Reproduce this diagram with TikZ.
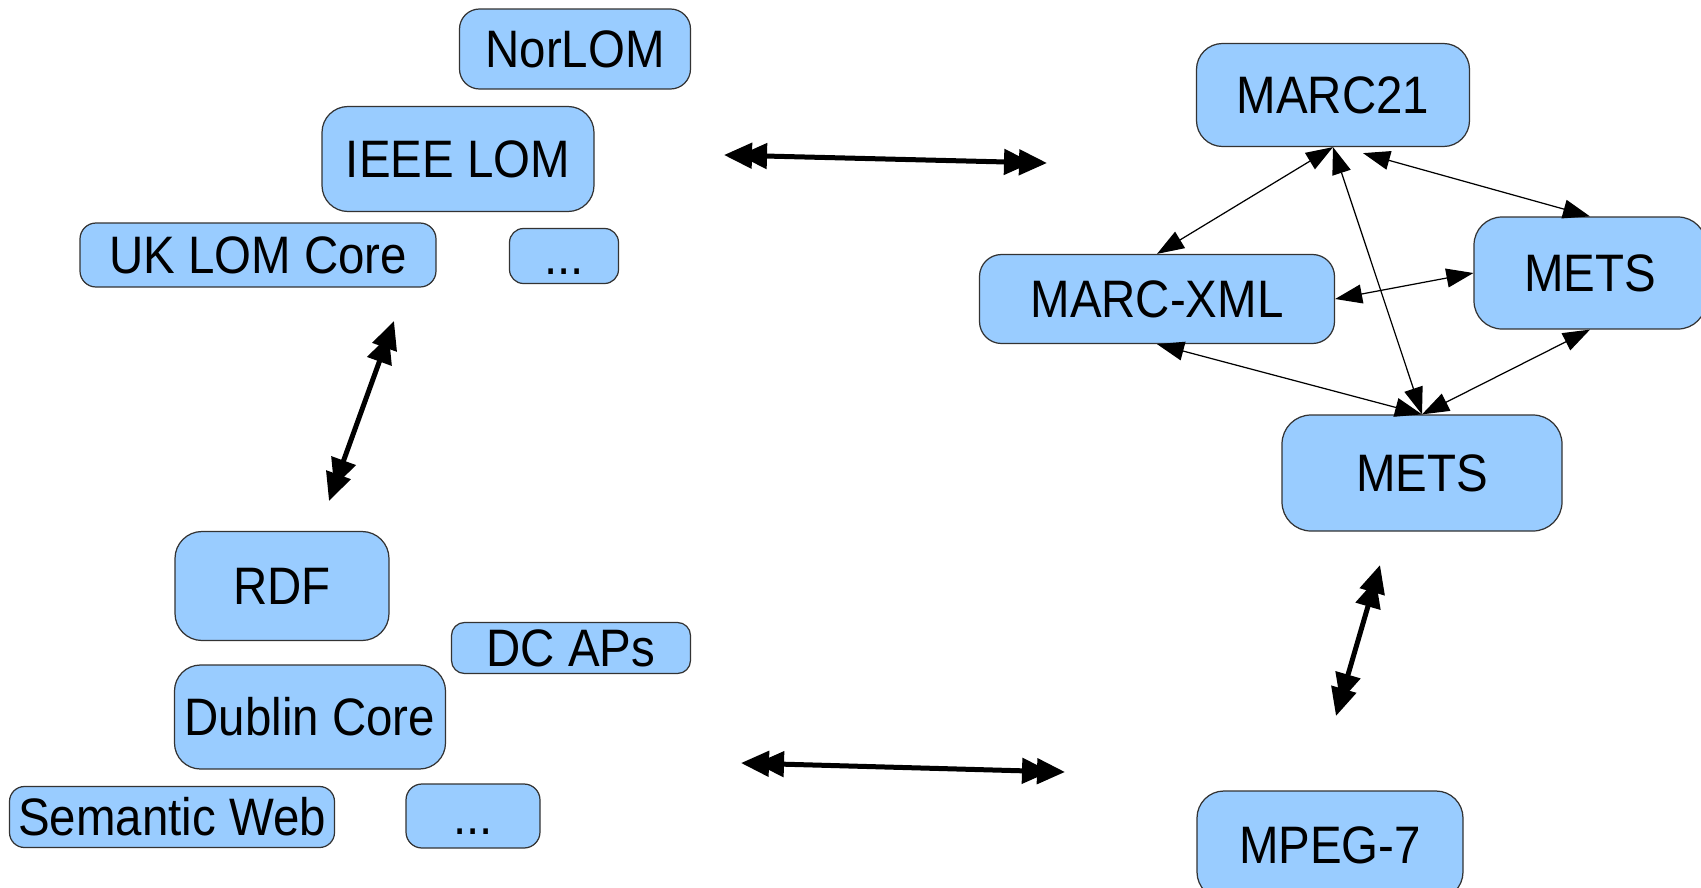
\documentclass[tikz,border=0pt]{standalone}
\usepackage{fontspec}
\setmainfont{Liberation Sans}[FakeStretch=0.9]
\usetikzlibrary{arrows.meta}

\definecolor{boxblue}{HTML}{99CCFF}

\tikzset{
    box/.style={draw=black!80, fill=boxblue, line width=0.35pt, inner sep=0pt,
        text height=10.8pt, text depth=0pt, font=\fontsize{15}{18}\selectfont},
    link/.style={line width=0.35pt,
        {Triangle[length=2.7mm, width=1.9mm]}-{Triangle[length=2.7mm, width=1.9mm]}},
    bigarrow/.style={line width=0.5mm,
        {Triangle[length=2.8mm, width=2.5mm]Triangle[length=2.8mm, width=2.5mm, sep=-1.3mm]}-{Triangle[length=2.8mm, width=2.5mm, sep=-1.3mm]Triangle[length=2.8mm, width=2.5mm]}}
}

\begin{document}
\begin{tikzpicture}[x=0.1mm, y=-0.1mm]
                \useasboundingbox (0,0) rectangle (1701,888);

                % Nodes
                \node[box, minimum width=23.1mm, minimum height=8mm, rounded corners=2mm] at (575, 49) (norlom) {NorLOM};
                \node[box, minimum width=27.2mm, minimum height=10.5mm, rounded corners=2.6mm] at (458, 159) (ieee) {IEEE LOM};
                \node[box, minimum width=35.6mm, minimum height=6.4mm, rounded corners=1.6mm] at (258, 255) (uklom) {UK LOM Core};
                \node[box, minimum width=10.9mm, minimum height=5.5mm, rounded corners=1.4mm] at (564, 256) (lomdots) {...};

                \node[box, minimum width=21.4mm, minimum height=10.9mm, rounded corners=2.7mm] at (282, 586) (rdf) {RDF};
                \node[box, minimum width=23.9mm, minimum height=5.1mm, rounded corners=1.3mm] at (571, 648) (dcaps) {DC APs};
                \node[box, minimum width=27.1mm, minimum height=10.4mm, rounded corners=2.6mm] at (310, 717) (dublin) {Dublin Core};
                \node[box, minimum width=32.5mm, minimum height=6.1mm, rounded corners=1.5mm] at (172, 817) (semweb) {Semantic Web};
                \node[box, minimum width=13.4mm, minimum height=6.4mm, rounded corners=1.6mm] at (473, 816) (dcdots) {...};

                \node[box, minimum width=27.3mm, minimum height=10.3mm, rounded corners=2.6mm] at (1333, 95) (marc21) {MARC21};
                \node[box, minimum width=35.5mm, minimum height=8.9mm, rounded corners=2.2mm] at (1157, 299) (marcxml) {MARC-XML};
                \node[box, minimum width=23.2mm, minimum height=11.2mm, rounded corners=2.8mm] at (1590, 273) (metsr) {METS};
                \node[box, minimum width=28mm, minimum height=11.6mm, rounded corners=2.9mm] at (1422, 473) (metsm) {METS};
                \node[box, minimum width=26.6mm, minimum height=10.8mm, rounded corners=2.7mm] at (1330, 845) (mpeg) {MPEG-7};

                % Free ends of the big arrows
                \coordinate (lomE) at (724, 155);
                \coordinate (marcW) at (1047, 163);
                \coordinate (lomS) at (394, 321);
                \coordinate (rdfN) at (329, 501);
                \coordinate (dcE) at (741, 763);
                \coordinate (mpegW) at (1065, 772);
                \coordinate (metsS) at (1380, 565);
                \coordinate (mpegN) at (1336, 716);

                % Edges
                \draw[bigarrow] (lomE) -- (marcW);
                \draw[bigarrow] (lomS) -- (rdfN);
                \draw[bigarrow] (dcE) -- (mpegW);
                \draw[bigarrow] (metsS) -- (mpegN);

                \draw[link] (marc21.south) -- (marcxml.north);
                \draw[link] (marc21.south) -- (metsm.north);
                \draw[link] ([xshift=3mm, yshift=-0.6mm]marc21.south) -- (metsr.north);
                \draw[link] (marcxml.east) -- (metsr.west);
                \draw[link] (marcxml.south) -- (metsm.north);
                \draw[link] (metsr.south) -- (metsm.north);
\end{tikzpicture}
\end{document}
